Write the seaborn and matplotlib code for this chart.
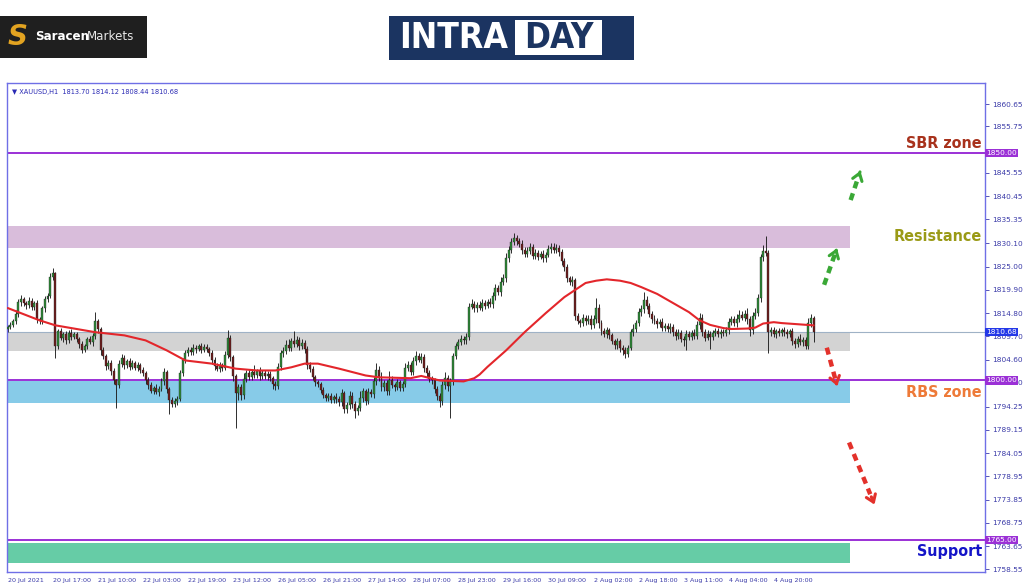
import numpy as np
import pandas as pd
import matplotlib
matplotlib.use("Agg")
import matplotlib.pyplot as plt
import matplotlib.transforms as mtransforms
from matplotlib.patches import Rectangle, FancyArrowPatch
import seaborn as sns

# ---------------- data ----------------
first_open = 1811.4
closes = [
    1811.8, 1812.2, 1813.0, 1814.6, 1817.2, 1817.8, 1817.0, 1816.6, 1817.4, 1816.2,
    1816.9, 1813.6, 1813.0, 1815.8, 1817.8, 1818.6, 1822.8, 1823.5, 1807.6, 1810.8,
    1809.4, 1810.2, 1808.8, 1810.5, 1809.6, 1810.1, 1809.2, 1808.0, 1806.8, 1807.6,
    1809.0, 1808.4, 1809.8, 1813.0, 1811.2, 1806.6, 1805.4, 1803.2, 1803.9, 1802.0,
    1800.0, 1799.0, 1803.6, 1805.0, 1803.4, 1804.2, 1803.0, 1803.8, 1802.8, 1803.3,
    1802.4, 1801.6, 1800.0, 1799.0, 1797.8, 1798.4, 1797.5, 1798.2, 1799.8, 1801.8,
    1798.2, 1795.8, 1794.9, 1795.6, 1796.0, 1801.6, 1804.4, 1806.0, 1806.8, 1806.3,
    1807.2, 1806.9, 1807.5, 1806.8, 1807.4, 1807.0, 1806.0, 1804.6, 1803.2, 1802.6,
    1803.4, 1802.8, 1805.6, 1809.4, 1805.2, 1801.0, 1797.2, 1798.6, 1796.8, 1800.4,
    1801.6, 1800.8, 1801.8, 1801.2, 1802.0, 1801.0, 1801.7, 1800.9, 1801.5, 1800.6,
    1799.2, 1798.8, 1803.0, 1806.0, 1806.4, 1807.8, 1807.2, 1808.6, 1808.0, 1808.8,
    1807.6, 1808.2, 1807.0, 1803.4, 1802.6, 1800.8, 1799.6, 1799.2, 1798.0, 1796.8,
    1796.2, 1796.6, 1795.8, 1796.4, 1796.0, 1795.2, 1797.2, 1793.8, 1794.6, 1796.6,
    1794.8, 1793.2, 1794.0, 1796.2, 1797.6, 1795.6, 1797.4, 1797.0, 1799.8, 1802.2,
    1800.6, 1798.6, 1799.4, 1797.6, 1800.2, 1799.0, 1798.6, 1799.6, 1798.4, 1799.2,
    1802.8, 1803.4, 1801.8, 1804.2, 1805.4, 1804.6, 1805.2, 1802.8, 1801.6, 1800.4,
    1800.0, 1798.2, 1796.6, 1795.4, 1799.0, 1800.6, 1798.8, 1799.8, 1805.4, 1807.6,
    1808.4, 1809.2, 1808.8, 1809.6, 1816.2, 1816.8, 1815.8, 1816.6, 1816.0, 1817.0,
    1816.4, 1817.2, 1816.8, 1818.6, 1820.2, 1819.4, 1821.6, 1822.4, 1826.8, 1828.6,
    1830.4, 1831.2, 1830.6, 1830.0, 1828.6, 1827.8, 1828.4, 1829.2, 1827.4, 1828.0,
    1827.2, 1827.8, 1826.8, 1827.6, 1828.8, 1829.4, 1828.6, 1829.0, 1828.2, 1826.2,
    1824.8, 1822.4, 1821.6, 1822.0, 1814.2, 1813.0, 1812.6, 1813.8, 1813.0, 1813.6,
    1812.2, 1813.4, 1816.0, 1812.6, 1810.8, 1810.2, 1811.0, 1810.0, 1808.6, 1807.8,
    1808.6, 1807.2, 1806.6, 1805.8, 1807.2, 1810.6, 1811.4, 1812.6, 1815.0, 1815.6,
    1817.6, 1816.4, 1814.6, 1813.6, 1813.0, 1812.4, 1812.8, 1811.6, 1812.0, 1811.2,
    1811.8, 1810.6, 1809.8, 1810.4, 1809.2, 1808.8, 1810.2, 1809.6, 1810.4, 1809.8,
    1812.2, 1813.8, 1810.6, 1809.4, 1810.2, 1809.6, 1810.4, 1810.8, 1810.2, 1810.6,
    1810.4, 1811.0, 1812.8, 1813.4, 1812.6, 1813.6, 1814.4, 1813.8, 1814.6, 1813.4,
    1811.0, 1814.2, 1814.8, 1818.0, 1827.0, 1828.4, 1828.0, 1810.6, 1811.0, 1810.2,
    1810.8, 1810.4, 1811.0, 1810.6, 1810.2, 1810.8, 1808.6, 1808.0, 1809.2, 1808.4,
    1808.8, 1807.6, 1812.6, 1813.7, 1810.68,
]
up_wick = [
    0.4, 0.6, 0.5, 0.8, 0.7, 1.0, 0.6, 0.5, 0.9, 0.6,
    0.5, 0.7, 0.4, 0.6, 0.8, 0.7, 0.9, 1.2, 0.4, 0.6,
    0.8, 0.5, 0.7, 0.6, 0.9, 0.5, 0.6, 0.4, 0.7, 0.5,
    0.6, 0.8, 0.7, 2.0, 0.6, 0.5, 0.7, 0.4, 0.6, 0.5,
    0.7, 0.4, 0.8, 0.9, 0.6, 0.5, 0.7, 0.6, 0.5, 0.8,
    0.6, 0.5, 0.4, 0.7, 0.6, 0.5, 0.8, 0.6, 0.7, 0.9,
    0.5, 0.4, 0.6, 0.5, 0.7, 0.8, 0.6, 0.7, 0.5, 0.6,
    0.8, 0.5, 0.6, 0.7, 0.5, 0.6, 0.4, 0.6, 0.5, 0.7,
    0.6, 0.5, 0.9, 1.6, 0.6, 0.5, 0.4, 0.7, 0.6, 1.2,
    0.8, 1.0, 0.7, 1.5, 0.6, 0.9, 0.5, 0.7, 0.6, 0.5,
    0.4, 0.6, 0.8, 0.7, 0.9, 1.0, 1.4, 0.8, 2.2, 0.9,
    0.7, 1.0, 0.6, 0.5, 0.7, 0.6, 0.5, 0.6, 0.4, 0.6,
    0.5, 0.7, 0.6, 0.5, 0.8, 0.6, 0.9, 0.5, 0.6, 1.2,
    0.8, 0.6, 0.7, 1.4, 0.8, 0.6, 0.9, 0.7, 1.0, 1.6,
    0.9, 1.2, 0.7, 0.6, 1.8, 0.7, 0.5, 0.8, 0.6, 0.7,
    1.0, 0.8, 0.6, 0.9, 1.1, 0.7, 0.8, 0.6, 0.5, 0.7,
    0.6, 0.5, 0.7, 0.6, 0.9, 1.2, 0.6, 0.8, 0.7, 0.6,
    0.8, 0.7, 0.6, 0.9, 0.8, 1.0, 0.7, 0.6, 0.8, 0.9,
    0.6, 0.7, 0.8, 0.9, 1.0, 0.8, 1.1, 0.9, 1.2, 1.0,
    0.9, 1.2, 0.7, 0.6, 0.8, 0.7, 0.9, 1.0, 0.7, 0.8,
    0.6, 0.7, 0.8, 0.6, 0.9, 0.8, 0.7, 0.9, 0.8, 0.6,
    0.7, 0.8, 0.6, 0.9, 0.5, 0.7, 0.6, 0.8, 0.6, 0.7,
    0.8, 0.9, 2.0, 0.7, 0.6, 0.8, 0.7, 0.6, 0.5, 0.6,
    0.7, 0.6, 0.5, 0.7, 0.6, 0.8, 0.9, 0.7, 1.0, 0.9,
    1.8, 0.9, 0.7, 0.6, 0.8, 0.7, 0.6, 0.9, 0.7, 0.6,
    0.8, 0.7, 0.6, 0.9, 0.7, 0.6, 0.8, 0.7, 0.6, 0.8,
    0.9, 1.0, 0.7, 0.6, 0.8, 0.7, 0.6, 0.8, 0.7, 0.6,
    0.7, 0.8, 0.9, 0.7, 0.8, 0.9, 1.0, 0.8, 0.9, 1.2,
    0.7, 0.8, 1.0, 0.9, 0.8, 1.4, 3.3, 0.6, 0.7, 0.8,
    0.6, 0.7, 0.6, 0.8, 0.7, 0.6, 0.8, 0.7, 0.6, 0.9,
    0.7, 0.8, 1.2, 1.0, 0.42,
]
dn_wick = [
    0.8, 0.6, 0.5, 0.7, 0.6, 0.8, 0.7, 0.9, 0.6, 0.8,
    0.7, 0.9, 0.6, 0.5, 0.7, 0.6, 0.5, 0.8, 2.6, 0.7,
    0.6, 0.9, 0.7, 0.5, 0.8, 0.6, 0.7, 0.9, 0.8, 0.6,
    0.7, 0.5, 0.8, 0.6, 0.7, 0.9, 0.6, 0.8, 0.7, 0.9,
    0.8, 5.0, 0.6, 0.7, 0.8, 0.6, 0.7, 0.5, 0.6, 0.7,
    0.8, 0.6, 0.7, 0.9, 0.6, 0.7, 0.5, 0.8, 0.6, 0.7,
    0.9, 3.2, 0.8, 0.7, 0.9, 0.6, 0.7, 0.5, 0.6, 0.7,
    0.6, 0.8, 0.5, 0.7, 0.6, 0.8, 0.7, 0.9, 0.8, 0.6,
    0.7, 0.8, 0.6, 0.7, 0.9, 1.2, 7.7, 1.4, 1.0, 0.8,
    0.7, 0.6, 0.8, 0.7, 0.6, 0.9, 0.7, 0.6, 0.8, 0.7,
    1.0, 0.8, 0.6, 0.7, 0.8, 0.6, 0.7, 0.8, 0.6, 0.7,
    0.8, 0.6, 0.9, 0.8, 0.7, 0.8, 0.9, 0.7, 0.8, 0.6,
    0.7, 0.6, 0.8, 0.7, 0.9, 0.8, 0.7, 1.0, 0.9, 0.8,
    0.9, 1.4, 0.8, 0.7, 0.9, 1.0, 0.8, 0.7, 0.9, 0.8,
    0.7, 0.9, 0.8, 0.7, 0.8, 0.6, 0.9, 0.7, 0.8, 0.6,
    0.7, 0.8, 0.6, 0.7, 0.8, 0.6, 0.7, 0.9, 0.8, 0.7,
    0.8, 1.0, 0.9, 1.2, 0.8, 0.9, 1.0, 7.0, 0.8, 0.6,
    0.7, 0.6, 0.8, 0.7, 0.8, 0.6, 0.7, 0.8, 0.6, 0.7,
    0.8, 0.6, 0.7, 0.8, 0.9, 0.7, 0.8, 0.6, 0.7, 0.8,
    0.6, 0.7, 0.8, 0.6, 0.9, 0.7, 0.8, 0.6, 0.7, 0.8,
    0.7, 0.6, 0.8, 0.7, 0.6, 0.8, 0.7, 0.6, 0.8, 0.9,
    0.8, 0.7, 0.6, 0.8, 1.0, 0.7, 0.9, 0.6, 0.8, 0.7,
    0.9, 0.7, 0.8, 1.0, 0.8, 0.7, 0.9, 0.8, 0.7, 0.9,
    0.8, 1.0, 1.1, 0.8, 0.7, 0.6, 0.8, 0.7, 0.6, 0.8,
    0.7, 0.8, 0.6, 0.9, 0.7, 0.8, 0.6, 0.7, 0.8, 0.6,
    0.7, 0.8, 0.9, 0.7, 0.8, 1.2, 2.0, 0.8, 0.7, 0.6,
    0.7, 0.8, 0.9, 0.7, 0.6, 2.6, 0.8, 0.7, 0.6, 0.8,
    0.7, 0.6, 0.8, 0.7, 0.6, 0.8, 0.7, 0.6, 0.8, 0.9,
    1.2, 0.8, 0.7, 0.6, 0.8, 0.7, 0.6, 4.6, 0.8, 0.7,
    0.8, 0.7, 0.6, 0.9, 0.8, 0.7, 0.9, 0.8, 0.7, 0.6,
    0.8, 0.7, 0.6, 0.8, 2.24,
]
# moving average, read at selected bars
ma_bars = [0, 12, 18, 33, 44, 52, 60, 67, 77, 86, 94, 101, 107, 112, 117, 125, 135,
           140, 152, 156, 163, 172, 176, 178, 181, 188, 195, 203, 210, 218, 222, 226,
           231, 235, 239, 245, 251, 257, 261, 265, 270, 273, 279, 282, 285, 289, 292, 304]
ma_vals = [1815.9, 1813.2, 1812.1, 1810.6, 1809.9, 1808.8, 1806.6, 1804.4, 1803.7,
           1802.6, 1802.2, 1802.2, 1802.9, 1803.7, 1803.7, 1802.6, 1801.1, 1800.7,
           1800.5, 1801.0, 1800.0, 1799.8, 1800.5, 1801.3, 1803.0, 1806.6, 1810.6,
           1814.8, 1818.3, 1821.4, 1821.9, 1822.2, 1821.9, 1821.4, 1820.5, 1819.0,
           1817.0, 1815.0, 1813.2, 1812.2, 1811.5, 1811.3, 1811.4, 1811.6, 1812.5,
           1812.8, 1812.6, 1812.1]

x_tick_bars = [0, 17, 34, 51, 68, 85, 102, 119, 136, 153, 170, 187, 204, 221, 238, 255, 272, 289]
x_tick_labels = ["20 Jul 2021", "20 Jul 17:00", "21 Jul 10:00", "22 Jul 03:00", "22 Jul 19:00",
                 "23 Jul 12:00", "26 Jul 05:00", "26 Jul 21:00", "27 Jul 14:00", "28 Jul 07:00",
                 "28 Jul 23:00", "29 Jul 16:00", "30 Jul 09:00", "2 Aug 02:00", "2 Aug 18:00",
                 "3 Aug 11:00", "4 Aug 04:00", "4 Aug 20:00"]
y_ticks = [1860.65, 1855.75, 1845.55, 1840.45, 1835.35, 1830.10, 1825.00, 1819.90,
           1814.80, 1809.70, 1804.60, 1799.50, 1794.25, 1789.15, 1784.05, 1778.95,
           1773.85, 1768.75, 1763.65, 1758.55]

level_values = [1850.00, 1800.00, 1765.00]
current_price = 1810.68

zone_names = ["resistance", "pivot", "rbs", "support"]
zone_lo = [1829.1, 1806.5, 1795.1, 1760.0]
zone_hi = [1833.9, 1810.4, 1799.9, 1764.3]
zone_colors = ["#d9bddb", "#d3d3d3", "#87cbe8", "#66cca6"]

label_texts = ["SBR zone", "Resistance", "RBS zone", "Support"]
label_prices = [1852.1, 1831.7, 1797.3, 1762.4]
label_colors = ["#a8321c", "#9a9a16", "#ee7a38", "#1414c8"]

# dashed projection arrows: (start bar, start price, end bar, end price)
arrows_up = [(308.0, 1821.0, 313.2, 1829.6), (318.0, 1839.6, 322.0, 1846.6)]
arrows_dn = [(309.0, 1807.2, 313.2, 1798.2), (317.4, 1786.4, 327.4, 1772.2)]

# ---------------- build candles ----------------
df = pd.DataFrame({"close": closes})
df["open"] = [first_open] + closes[:-1]
df["bar"] = np.arange(len(df))
df["high"] = df[["open", "close"]].max(axis=1) + np.array(up_wick)
df["low"] = df[["open", "close"]].min(axis=1) - np.array(dn_wick)
df["bull"] = df["close"] >= df["open"]

sns.set_style("white")
plt.rcParams["font.family"] = ["DejaVu Sans"]

fig = plt.figure(figsize=(10.24, 5.87), dpi=100)
fig.patch.set_facecolor("white")
ax = fig.add_axes([0.00654, 0.02555, 0.9554, 0.8336])
ax.set_xlim(-0.4, 368.7)
ax.set_ylim(1757.97, 1865.36)

zone_right = 0.862
for lo, hi, col in zip(zone_lo, zone_hi, zone_colors):
    ax.axhspan(lo, hi, xmin=0, xmax=zone_right, color=col, lw=0, zorder=0.5)

ax.axhline(current_price, color="#9fb2c6", lw=0.8, zorder=0.8)
for v in level_values:
    ax.axhline(v, color="#9b30d6", lw=1.4, zorder=0.9)

# candles
ax.vlines(df["bar"], df["low"], df["high"], color="#1e1e1e", lw=0.65, zorder=2)
body_lo = df[["open", "close"]].min(axis=1)
body_h = (df["close"] - df["open"]).abs().clip(lower=0.15)
colors = np.where(df["bull"], "#2e8a38", "#6e1d1d")
ax.bar(df["bar"], body_h, bottom=body_lo, width=0.74, color=colors,
       edgecolor="#1e1e1e", linewidth=0.25, zorder=3)

# moving average
sns.lineplot(x=ma_bars, y=ma_vals, color="#e3262b", lw=1.5, ax=ax, zorder=4)

# axes styling
for s in ax.spines.values():
    s.set_color("#6f6fe6")
    s.set_linewidth(1.0)
ax.yaxis.tick_right()
ax.set_yticks(y_ticks)
ax.set_yticklabels([f"{v:.2f}" for v in y_ticks])
ax.set_xticks(x_tick_bars)
ax.set_xticklabels(x_tick_labels)
ax.tick_params(axis="y", labelsize=5.3, colors="#3b3ba8", length=3, width=0.6, pad=2)
ax.tick_params(axis="x", labelsize=4.6, colors="#3b3ba8", length=3, width=0.6, pad=1.5)
for lbl in ax.get_xticklabels():
    lbl.set_ha("left")
ax.set_xlabel("")
ax.set_ylabel("")

trans = mtransforms.blended_transform_factory(ax.transAxes, ax.transData)
for v in level_values:
    ax.text(1.0012, v, f"{v:.2f}", transform=trans, fontsize=5.3, color="white",
            ha="left", va="center", clip_on=False, zorder=6,
            bbox=dict(boxstyle="square,pad=0.15", fc="#9b30d6", ec="none"))
ax.text(1.0012, current_price, f"{current_price:.2f}", transform=trans, fontsize=5.3,
        color="white", ha="left", va="center", clip_on=False, zorder=6,
        bbox=dict(boxstyle="square,pad=0.15", fc="#2438e8", ec="none"))

for t, p, c in zip(label_texts, label_prices, label_colors):
    ax.text(0.997, p, t, transform=trans, fontsize=11.5, fontweight="bold", color=c,
            ha="right", va="center", fontstretch="condensed", zorder=6)

ax.text(0.0055, 0.988, "\u25BC XAUUSD,H1  1813.70 1814.12 1808.44 1810.68",
        transform=ax.transAxes, fontsize=4.8, color="#2a2ab4", ha="left", va="top")

def dashed_arrow(a, color):
    x0, y0, x1, y1 = a
    f = 0.8
    xm, ym = x0 + (x1 - x0) * f, y0 + (y1 - y0) * f
    ax.plot([x0, xm], [y0, ym], color=color, lw=3.2, ls=(0, (1.6, 1.2)),
            solid_capstyle="butt", zorder=5)
    ax.annotate("", xy=(x1, y1), xytext=(xm, ym),
                arrowprops=dict(arrowstyle="->,head_width=0.35,head_length=0.5",
                                color=color, lw=2.2), zorder=5)

for a in arrows_up:
    dashed_arrow(a, "#3aa836")
for a in arrows_dn:
    dashed_arrow(a, "#e3312b")

# ---------------- header logos ----------------
fig.patches.append(Rectangle((0, 0.9012), 0.1436, 0.0715, transform=fig.transFigure,
                             fc="#1f1f1f", ec="none"))
fig.text(0.0175, 0.937, "S", fontsize=20, fontweight="bold", style="italic",
         color="#e2a321", ha="center", va="center")
fig.text(0.0342, 0.937, "Saracen", fontsize=8.6, fontweight="bold", color="white",
         ha="left", va="center")
fig.text(0.0845, 0.937, "Markets", fontsize=8.6, color="#e8e8e8", ha="left", va="center")

fig.patches.append(Rectangle((0.3799, 0.8978), 0.2393, 0.075, transform=fig.transFigure,
                             fc="#1b3461", ec="none"))
fig.patches.append(Rectangle((0.5029, 0.9063), 0.085, 0.0596, transform=fig.transFigure,
                             fc="white", ec="none"))
fig.text(0.4430, 0.936, "INTRA", fontsize=25.5, fontweight="bold", color="white",
         ha="center", va="center", fontstretch="condensed")
fig.text(0.5454, 0.936, "DAY", fontsize=25, fontweight="bold", color="#1b3461",
         ha="center", va="center", fontstretch="condensed")
fig.add_artist(FancyArrowPatch((606, 549), (631, 568), transform=mtransforms.IdentityTransform(),
                               arrowstyle="simple,head_width=1.1,head_length=0.9,tail_width=0.45",
                               mutation_scale=12, color="#27c2d3", lw=0))
fig.add_artist(FancyArrowPatch((629, 546), (605, 529), transform=mtransforms.IdentityTransform(),
                               arrowstyle="simple,head_width=1.1,head_length=0.9,tail_width=0.45",
                               mutation_scale=12, color="#e631c8", lw=0))

fig.savefig("out.png", dpi=100, facecolor="white")
